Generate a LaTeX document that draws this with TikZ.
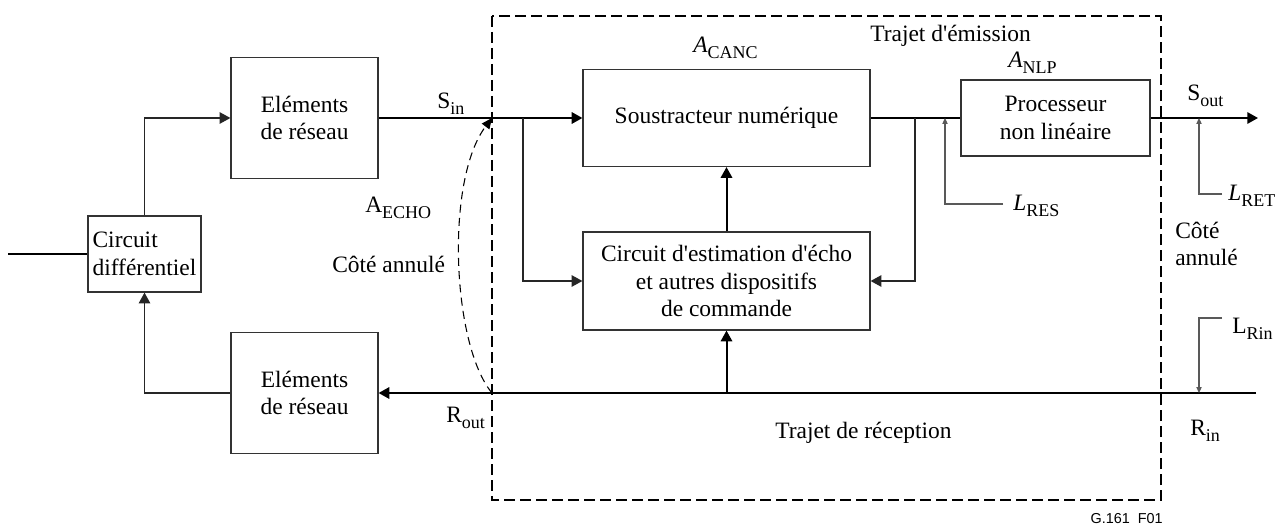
\documentclass[tikz,border=0pt]{standalone}
\usepackage{fontspec}
\setmainfont{Liberation Serif}
\newfontfamily\figsans{Liberation Sans}
\usetikzlibrary{arrows.meta}
\newcommand\lsb[1]{\raisebox{-4.5pt}{\fontsize{13.5}{14}\selectfont #1}}
\newcommand\apos{\textquotesingle}
\begin{document}
\begin{tikzpicture}[x=0.75pt,y=-0.75pt,
  font=\fontsize{17.6}{20.6}\selectfont,
  box/.style={draw=black!80, line width=0.9pt, inner sep=2pt, align=center},
  sigline/.style={line width=1.5pt},
  conn/.style={line width=1pt, draw=black!85},
  arr/.style={-{Triangle[length=8pt,width=8.5pt]}},
  thinl/.style={line width=0.8pt, draw=black!65},
  tinyarr/.style={-{Triangle[length=4.5pt,width=4pt]}},
  frame/.style={line width=1.4pt, dash pattern=on 8pt off 4pt},
  echo/.style={line width=0.8pt, dash pattern=on 6pt off 4pt},
  lbl/.style={inner sep=0pt, anchor=base west}]
\useasboundingbox (0,0) rectangle (1281,531);

% frame
\draw[frame] (492,16) rectangle (1161,500);

% boxes
\node[box, align=left, inner sep=3pt, minimum width=84.75pt, minimum height=57pt] (diff) at (144.5,254) {Circuit\\différentiel};
\node[box, minimum width=110.25pt, minimum height=90.75pt] (elt1) at (304.5,118) {Eléments\\de réseau};
\node[box, minimum width=110.25pt, minimum height=90.75pt] (elt2) at (304.5,393) {Eléments\\de réseau};
\node[box, minimum width=215.25pt, minimum height=72.75pt] (sub) at (726.5,118) {Soustracteur numérique};
\node[box, minimum width=215.25pt, minimum height=73.5pt] (est) at (726.5,281) {Circuit d\apos estimation d\apos écho\\et autres dispositifs\\de commande};
\node[box, minimum width=141.75pt, minimum height=57pt] (nlp) at (1055.5,118) {Processeur\\non linéaire};

% coordinates
\coordinate (in0) at (8,254);
\coordinate (sinj) at (492,118);
\coordinate (routj) at (492,393);
\coordinate (b1) at (523,118);
\coordinate (b2) at (915,118);
\coordinate (outend) at (1258,118);
\coordinate (rinstart) at (1256,393);
\coordinate (tap) at (726.5,393);
\coordinate (resT) at (945,118);
\coordinate (resC) at (945,204);
\coordinate (resE) at (1003,204);
\coordinate (retT) at (1199,118);
\coordinate (retC) at (1199,194);
\coordinate (retE) at (1222,194);
\coordinate (rinT) at (1199,393);
\coordinate (rinC) at (1199,318);
\coordinate (rinE) at (1222,318);

% connectors
\draw[sigline] (in0) -- (diff.west);
\draw[conn, arr] (diff.north) |- (elt1.west);
\draw[conn, arr] (elt2.west) -| (diff.south);
\draw[sigline, arr] (elt1.east) -- (sub.west);
\draw[conn, arr] (b1) |- (est.west);
\draw[sigline] (sub.east) -- (nlp.west);
\draw[conn, arr] (b2) |- (est.east);
\draw[sigline, arr] (nlp.east) -- (outend);
\draw[sigline, arr] (est.north) -- (sub.south);
\draw[sigline, arr] (rinstart) -- (elt2.east);
\draw[sigline, arr] (tap) -- (est.south);
\draw[thinl, tinyarr] (resE) -- (resC) -- (resT);
\draw[thinl, tinyarr] (retE) -- (retC) -- (retT);
\draw[thinl, tinyarr] (rinE) -- (rinC) -- (rinT);
\draw[echo, -{Triangle[length=8pt,width=7pt]}] (routj) .. controls (452,345) and (445,180) .. (sinj);

% labels
\node[lbl] (lsin) at (437,109) {S\lsb{in}};
\node[lbl] (lecho) at (365,213) {A\lsb{ECHO}};
\node[lbl] (lcote1) at (332,272) {Côté annulé};
\node[lbl] (lrout) at (446,422) {R\lsb{out}};
\node[lbl] (lcanc) at (693,53) {\textit{A}\lsb{CANC}};
\node[lbl] (ltre) at (870,42) {Trajet d\apos émission};
\node[lbl] (lnlp) at (1008,68) {\textit{A}\lsb{NLP}};
\node[lbl] (lsout) at (1187,101) {S\lsb{out}};
\node[lbl] (lret) at (1228,200) {\textit{L}\lsb{RET}};
\node[lbl] (lres) at (1013,210) {\textit{L}\lsb{RES}};
\node[inner sep=0pt, anchor=west, align=left] (lcote2) at (1175,244) {Côté\\annulé};
\node[lbl] (lrin) at (1232,333) {L\lsb{Rin}};
\node[lbl] (lrinp) at (1190,435) {R\lsb{in}};
\node[lbl] (ltrr) at (775,438) {Trajet de réception};
\node[inner sep=0pt, anchor=base east, font=\figsans\fontsize{10.8}{13}\selectfont] (fig) at (1163,523) {G.161\ \ F01};
\end{tikzpicture}
\end{document}
